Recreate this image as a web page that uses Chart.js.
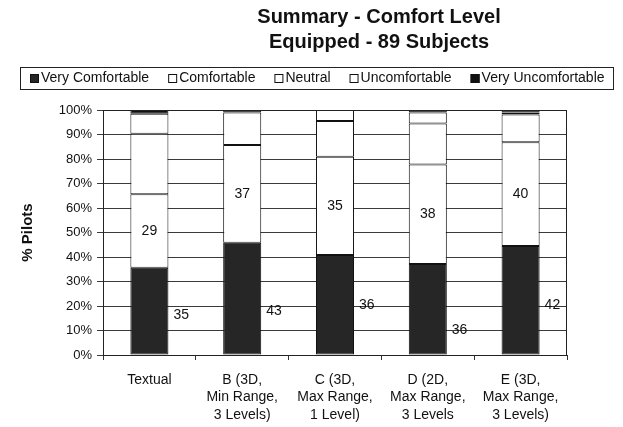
<!DOCTYPE html>
<html>
<head>
<meta charset="utf-8">
<script src="https://cdn.jsdelivr.net/npm/chart.js@4.4.1/dist/chart.umd.min.js"></script>
<style>
  html, body { margin: 0; padding: 0; background: #ffffff; }
  #wrap { width: 623px; height: 427px; position: relative; }
</style>
</head>
<body>
<div id="wrap"><canvas id="c" width="623" height="427"></canvas></div>
<script>
// ---- data (percent of pilots) ----
const titleLines = ['Summary - Comfort Level', 'Equipped - 89 Subjects'];
const categories = [
  ['Textual'],
  ['B (3D,', 'Min Range,', '3 Levels)'],
  ['C (3D,', 'Max Range,', '1 Level)'],
  ['D (2D,', 'Max Range,', '3 Levels'],
  ['E (3D,', 'Max Range,', '3 Levels)']
];
const seriesNames = ['Very Comfortable', 'Comfortable', 'Neutral', 'Uncomfortable', 'Very Uncomfortable'];
const veryComfortable   = [35.6, 45.8, 40.8, 37.1, 44.5];
const comfortable       = [30.0, 39.9, 40.1, 40.7, 42.3];
const neutral           = [24.7, 13.3, 14.6, 16.7, 11.4];
const uncomfortable     = [ 8.2,  0.0,  4.5,  4.5,  0.8];
const veryUncomfortable = [ 1.5,  1.0,  0.0,  1.0,  1.0];
// counts shown as labels
const veryComfortableCounts = [35, 43, 36, 36, 42];
const comfortableCounts     = [29, 37, 35, 38, 40];
const yTicks = [0, 10, 20, 30, 40, 50, 60, 70, 80, 90, 100];

const FONT = 'Arial, "Liberation Sans", Helvetica, sans-serif';

const annotate = {
  id: 'annotate',
  beforeDraw(chart) {
    const ctx = chart.ctx;
    ctx.save();
    ctx.fillStyle = '#ffffff';
    ctx.fillRect(0, 0, chart.width, chart.height);
    ctx.restore();
  },
  afterDatasetsDraw(chart, args, opts) {
    const ctx = chart.ctx;
    const y = chart.scales.y;
    ctx.save();
    // plot frame
    const a = chart.chartArea;
    ctx.strokeStyle = '#222';
    ctx.lineWidth = 1;
    ctx.strokeRect(Math.round(a.left) + 0.5, Math.round(a.top) + 0.5,
                   Math.round(a.right - a.left) - 1, Math.round(a.bottom - a.top));
    ctx.fillStyle = '#111';
    ctx.font = '14px ' + FONT;
    // comfortable counts centred in their segment
    const m1 = chart.getDatasetMeta(1);
    m1.data.forEach((bar, i) => {
      ctx.textAlign = 'center';
      ctx.textBaseline = 'middle';
      ctx.fillText(String(comfortableCounts[i]), bar.x, (bar.y + bar.base) / 2);
    });
    // very comfortable counts beside the bar
    const m0 = chart.getDatasetMeta(0);
    m0.data.forEach((bar, i) => {
      ctx.textAlign = 'left';
      ctx.textBaseline = 'middle';
      ctx.fillText(String(veryComfortableCounts[i]), bar.x + bar.width / 2 + opts.sideGap,
                   y.getPixelForValue(opts.sideLabelAt[i]));
    });
    ctx.restore();
  },
  afterDraw(chart, args, opts) {
    const ctx = chart.ctx;
    ctx.save();
    // title
    ctx.fillStyle = '#111';
    ctx.font = 'bold 20px ' + FONT;
    ctx.textAlign = 'center';
    ctx.textBaseline = 'middle';
    titleLines.forEach((t, i) => ctx.fillText(t, opts.titleX, opts.titleY + i * opts.titleLine));
    // legend box
    const L = opts.legend;
    ctx.strokeStyle = '#222';
    ctx.lineWidth = 1;
    ctx.strokeRect(L.x + 0.5, L.y + 0.5, L.w, L.h);
    ctx.font = '14px ' + FONT;
    ctx.textAlign = 'left';
    let x = L.startX;
    const cy = L.y + L.h / 2 + 0.5;
    chart.data.datasets.forEach(ds => {
      ctx.fillStyle = ds.backgroundColor;
      ctx.fillRect(x, cy - 4.5, 9, 9);
      ctx.strokeStyle = '#111';
      ctx.strokeRect(x + 0.5, cy - 4.5 + 0.5, 8, 8);
      ctx.fillStyle = '#111';
      ctx.fillText(ds.label, x + 11, cy);
      x += 11 + ctx.measureText(ds.label).width + L.gap;
    });
    ctx.restore();
  }
};

const seriesData = [veryComfortable, comfortable, neutral, uncomfortable, veryUncomfortable];
const seriesFill = ['#262626', '#ffffff', '#ffffff', '#ffffff', '#111111'];

new Chart(document.getElementById('c'), {
  type: 'bar',
  data: {
    labels: categories,
    datasets: seriesNames.map((n, k) => ({
      label: n,
      data: seriesData[k],
      backgroundColor: seriesFill[k],
      borderColor: '#111',
      borderWidth: 1,
      borderSkipped: false,
      categoryPercentage: 1.0,
      barPercentage: 0.41
    }))
  },
  options: {
    responsive: false,
    animation: false,
    devicePixelRatio: 1,
    layout: { padding: { top: 110, right: 56, left: 0, bottom: 0 } },
    plugins: {
      legend: { display: false },
      title: { display: false },
      tooltip: { enabled: false },
      annotate: {
        titleX: 379, titleY: 17, titleLine: 25,
        legend: { x: 20, y: 67, w: 593, h: 22, startX: 30, gap: 19 },
        sideGap: 5,
        sideLabelAt: [16.3, 17.7, 20.4, 10.2, 20.4]
      }
    },
    scales: {
      x: {
        stacked: true,
        offset: true,
        grid: { display: true, drawOnChartArea: false, offset: true, tickLength: 5, color: '#333' },
        border: { display: true, color: '#222' },
        ticks: { color: '#111', font: { family: FONT, size: 14, lineHeight: 1.22 }, padding: 12, maxRotation: 0, autoSkip: false },
        afterFit(s) { s.height = 72; }
      },
      y: {
        stacked: true,
        min: 0, max: 100,
        afterBuildTicks(s) { s.ticks = yTicks.map(v => ({ value: v })); },
        grid: { color: '#3a3a3a', lineWidth: 1, tickLength: 6 },
        border: { display: true, color: '#222' },
        ticks: { color: '#111', font: { family: FONT, size: 13 }, padding: 5, callback: v => v + '%' },
        title: { display: true, text: '% Pilots', color: '#111', font: { family: FONT, size: 15, weight: 'bold' }, padding: { top: 19, bottom: 0 } },
        afterFit(s) { s.width = 103; }
      }
    }
  },
  plugins: [annotate]
});
</script>
</body>
</html>
